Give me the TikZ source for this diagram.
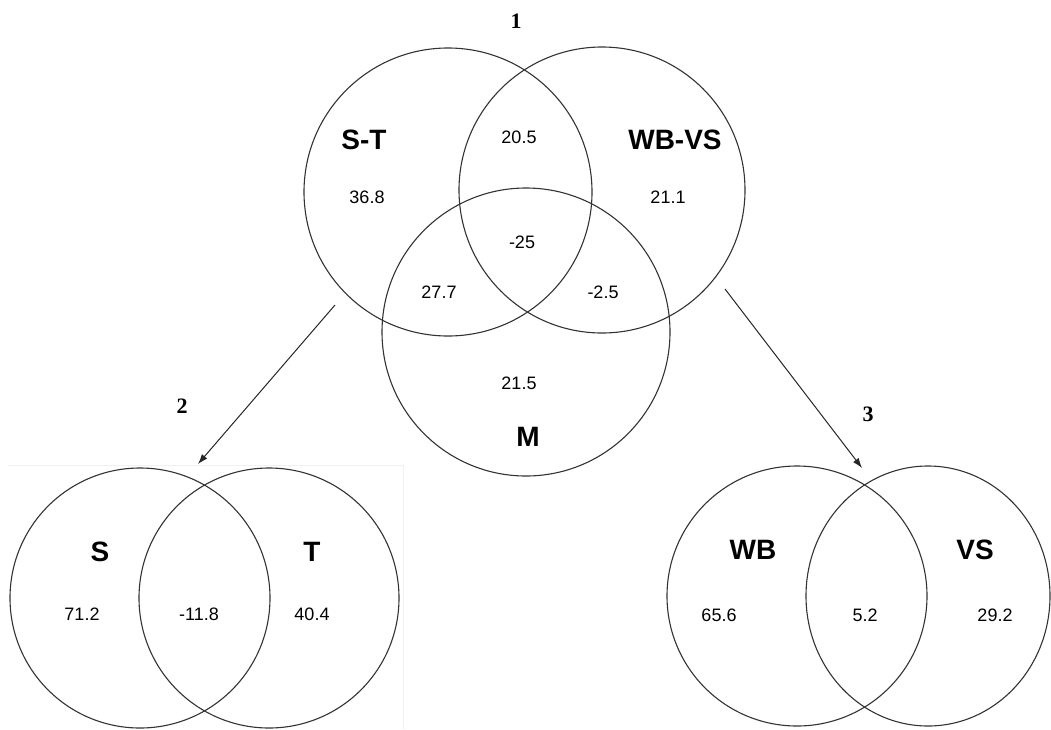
\documentclass[tikz,border=0pt]{standalone}
\usepackage{fontspec}
\setmainfont{Liberation Sans}
\newfontfamily\serifnum{Liberation Serif}
\usetikzlibrary{arrows.meta}
\tikzset{
  vcirc/.style={draw=black!80, line width=1.1pt},
  setlabel/.style={font=\fontsize{28}{30}\selectfont\bfseries, inner sep=0pt},
  val/.style={font=\fontsize{18}{20}\selectfont, inner sep=0pt},
  panel/.style={font=\serifnum\fontsize{22}{24}\selectfont\bfseries, inner sep=0pt},
  link/.style={draw=black!85, line width=1pt, -{Latex[length=10pt,width=7pt]}}
}
\begin{document}
\begin{tikzpicture}[x=1pt,y=-1pt]
\useasboundingbox (0,0) rectangle (1051,729);
\begin{scope}
\clip (0,0) rectangle (1051,729);
% faint panel frame
\draw[black!6, line width=1pt] (8,465) -- (403,465) -- (403,729);
% top three-set diagram
\draw[vcirc] (448,192) circle (144);
\draw[vcirc] (602,190) circle (143);
\draw[vcirc] (526,332) circle (144);
% bottom left
\draw[vcirc] (140,598) circle (130);
\draw[vcirc] (269,598) circle (130);
% bottom right
\draw[vcirc] (797,596) circle (130);
\draw[vcirc] (928,596) ellipse (122 and 130);
\end{scope}

\node[panel] (n1) at (516,21) {1};
\node[panel] (n2) at (182,406) {2};
\node[panel] (n3) at (868,414) {3};

\node[setlabel] (st) at (364,140) {S-T};
\node[setlabel] (wbvs) at (675,140) {WB-VS};
\node[setlabel] (m) at (528,437) {M};
\node[val] (v1) at (367,197) {36.8};
\node[val] (v2) at (519,137) {20.5};
\node[val] (v3) at (668,197) {21.1};
\node[val] (v4) at (522,242) {-25};
\node[val] (v5) at (439,292) {27.7};
\node[val] (v6) at (603,292) {-2.5};
\node[val] (v7) at (519,383) {21.5};

\node[setlabel] (s) at (100,552) {S};
\node[setlabel] (t) at (312,552) {T};
\node[val] (v8) at (82,614) {71.2};
\node[val] (v9) at (199,614) {-11.8};
\node[val] (v10) at (312,614) {40.4};

\node[setlabel] (wb) at (753,550) {WB};
\node[setlabel] (vs) at (975,550) {VS};
\node[val] (v11) at (719,615) {65.6};
\node[val] (v12) at (865,615) {5.2};
\node[val] (v13) at (995,615) {29.2};

\coordinate (a2s) at (335,305);
\coordinate (a2e) at (198,464);
\coordinate (a3s) at (725,289);
\coordinate (a3e) at (862,468);
\draw[link] (a2s) -- (a2e);
\draw[link] (a3s) -- (a3e);
\end{tikzpicture}
\end{document}
